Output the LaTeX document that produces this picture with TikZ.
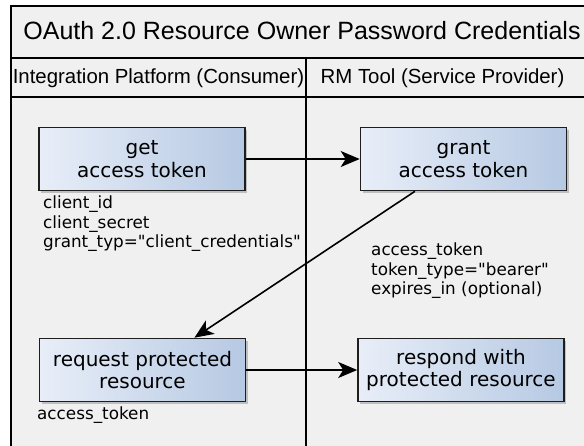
\documentclass[tikz,border=0pt]{standalone}
\usepackage{fontspec}
\usetikzlibrary{arrows.meta,calc,shadows}
\newfontfamily\djv{DejaVu Sans}
\newfontfamily\lib{Liberation Sans}
\definecolor{lanebg}{HTML}{F0F0F0}
\definecolor{boxl}{HTML}{E8EEF8}
\definecolor{boxr}{HTML}{B6C9E3}
\definecolor{boxline}{HTML}{1E1E1E}
\tikzset{
  frameline/.style={line width=2pt, black},
  stepbox/.style={draw=boxline, line width=1.6pt, left color=boxl, right color=boxr,
    minimum width=206pt, minimum height=63pt, inner sep=0pt, align=center,
    font=\djv\fontsize{20}{22.5}\selectfont,
    drop shadow={shadow xshift=2pt, shadow yshift=-2pt, fill=black!25, opacity=1}},
  note/.style={anchor=north west, inner sep=0pt, align=left,
    font=\djv\fontsize{16.8}{19.5}\selectfont},
  flow/.style={line width=1.6pt, -{Stealth[length=19pt,width=16pt,inset=5pt]}},
  title/.style={font=\lib\fontsize{25}{28}\selectfont, inner sep=0pt},
  lanehead/.style={font=\lib\fontsize{20.4}{24}\selectfont, inner sep=0pt}
}
\begin{document}
\begin{tikzpicture}[x=1pt,y=-1pt]
\useasboundingbox (0,0) rectangle (584,445);
\clip (0,0) rectangle (584,445);
\fill[white] (0,0) rectangle (584,445);
\fill[lanebg] (11,6) rectangle (600,460);
\draw[frameline] (600,6) -- (11,6) -- (11,460);
\draw[frameline] (11,58) -- (600,58);
\draw[frameline] (11,97) -- (600,97);
\draw[frameline] (306,58) -- (306,460);
\node[title] (ttl) at (302,31) {OAuth 2.0 Resource Owner Password Credentials};
\node[lanehead] (h1) at (158.5,78) {Integration Platform (Consumer)};
\node[lanehead] (h2) at (442.5,78) {RM Tool (Service Provider)};
\node[stepbox] (get) at (142,159) {get\\access token};
\node[stepbox] (grant) at (463.5,159) {grant\\access token};
\node[stepbox] (req) at (142.5,370) {request protected\\resource};
\node[stepbox] (resp) at (461,370) {respond with\\protected resource};
\node[note] (n1) at (43,196) {client\_id\\client\_secret\\grant\_typ="client\_credentials"};
\node[note] (n2) at (371,243) {access\_token\\token\_type="bearer"\\expires\_in (optional)};
\node[note] (n3) at (37,407) {access\_token};
\draw[flow] (get.east) -- (grant.west);
\draw[flow] ($(grant.south west)!0.266!(grant.south east)$) -- ($(req.north west)!0.75!(req.north east)$);
\draw[flow] (req.east) -- (resp.west);
\end{tikzpicture}
\end{document}
